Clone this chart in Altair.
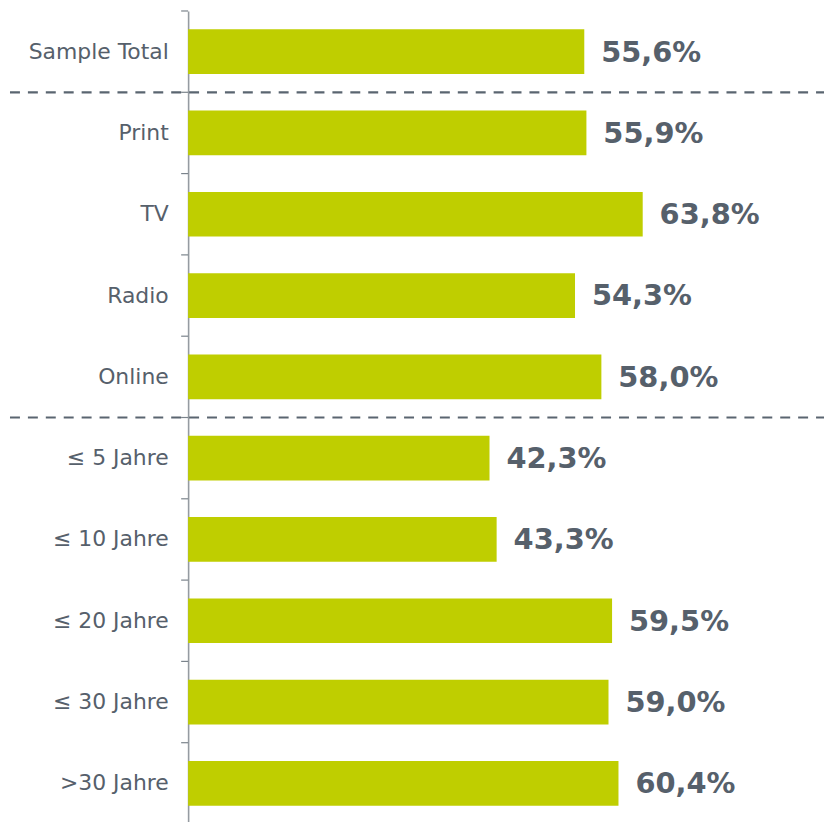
import altair as alt
import pandas as pd

categories = ["Sample Total", "Print", "TV", "Radio", "Online",
              "≤ 5 Jahre", "≤ 10 Jahre", "≤ 20 Jahre", "≤ 30 Jahre", ">30 Jahre"]
values = [55.6, 55.9, 63.8, 54.3, 58.0, 42.3, 43.3, 59.5, 59.0, 60.4]
separators_before = ["Print", "≤ 5 Jahre"]

W = 639
H = 817
P = 0.45
step = H / len(categories)
px_per_unit = 7.16

df = pd.DataFrame({
    "cat": categories,
    "val": values,
    "label": [f"{v:.1f}".replace(".", ",") + "%" for v in values],
})
sep_df = pd.DataFrame({"cat": separators_before})
tick_df = pd.DataFrame({"cat": categories})

TEXT = "#56606b"
AXIS = "#959ba1"
yscale = alt.Scale(domain=categories, paddingInner=P, paddingOuter=P / 2)
xscale = alt.Scale(domain=[0, W / px_per_unit], nice=False, zero=True)

base = alt.Chart(df).encode(
    y=alt.Y("cat:N", sort=categories, scale=yscale,
            axis=alt.Axis(title=None, ticks=False, tickSize=0, domainColor=AXIS,
                          domainWidth=1.6, labelPadding=20, labelFontSize=22,
                          labelColor=TEXT, labelFont="DejaVu Sans", grid=False)),
    x=alt.X("val:Q", scale=xscale, axis=None),
)

bars = base.mark_bar(color="#bfce00")
text = base.mark_text(align="left", baseline="middle", dx=17, dy=1,
                      font="DejaVu Sans", fontSize=29, fontWeight="bold",
                      color=TEXT).encode(text="label:N")

ticks = alt.Chart(tick_df).mark_rule(
    strokeWidth=1.2, color="#7a838b", yOffset=-P * step / 2
).encode(
    y=alt.Y("cat:N", sort=categories, scale=yscale, bandPosition=0),
    x=alt.value(-7),
    x2=alt.value(0),
)

rules = alt.Chart(sep_df).mark_rule(
    strokeDash=[10, 8], strokeWidth=2.2, color="#5a6570", yOffset=-P * step / 2
).encode(
    y=alt.Y("cat:N", sort=categories, scale=yscale, bandPosition=0),
    x=alt.value(-179),
    x2=alt.value(W),
)

chart = alt.layer(bars, text, ticks, rules).properties(
    width=W, height=H, padding=0
).configure_view(stroke=None)

chart.save("out.html", embed_options={"renderer": "svg", "actions": False})
